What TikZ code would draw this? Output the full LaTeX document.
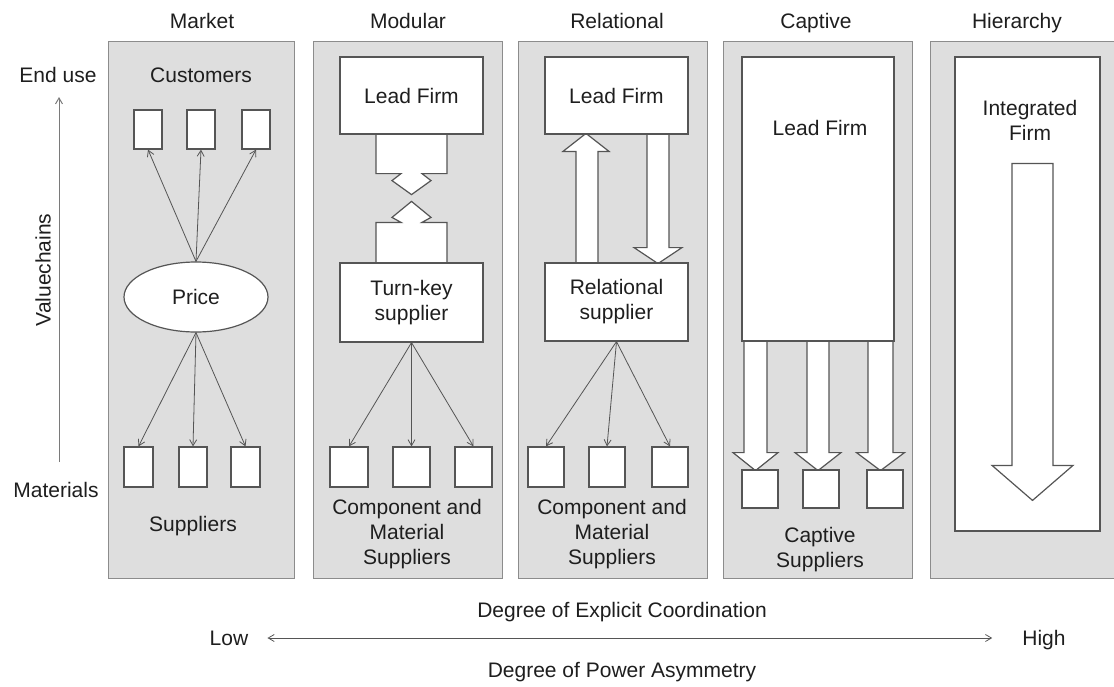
\documentclass[tikz,border=0pt]{standalone}
\usepackage{fontspec}
\setmainfont{Liberation Sans}
\usetikzlibrary{arrows.meta,calc,shapes.geometric}
\definecolor{panelfill}{HTML}{DEDEDE}
\definecolor{panelline}{HTML}{8C8C8C}
\definecolor{boxline}{HTML}{555555}
\definecolor{txt}{HTML}{1E1E1E}
\definecolor{axisline}{HTML}{7A7A7A}
\pgfdeclarelayer{panels}
\pgfdeclarelayer{bg}
\pgfsetlayers{panels,bg,main}
\begin{document}
\begin{tikzpicture}[x=1pt,y=-1pt,
  every node/.style={font=\fontsize{21}{25}\selectfont, text=txt},
  one/.style={text height=15pt, text depth=0pt, inner sep=0pt},
  panel/.style={draw=panelline, line width=1.2pt, fill=panelfill, anchor=north west, inner sep=0pt},
  wbox/.style={draw=boxline, line width=1.2pt, fill=white, inner sep=0pt, align=center},
  lbl/.style={align=center, inner sep=0pt},
  link/.style={draw=boxline, line width=0.8pt, -{Straight Barb[length=6pt,width=7pt]}},
  block/.style={draw=boxline, line width=1.2pt, fill=white, line join=miter},
  axis/.style={draw=axisline, line width=1pt}
]
\useasboundingbox (0,0) rectangle (1114,686);

% ---------- panels ----------
\begin{pgfonlayer}{panels}
\node[panel, minimum width=186pt, minimum height=537pt] (pmarket) at (108,41) {};
\node[panel, minimum width=189pt, minimum height=537pt] (pmodular) at (313,41) {};
\node[panel, minimum width=189pt, minimum height=537pt] (prelational) at (518,41) {};
\node[panel, minimum width=189pt, minimum height=537pt] (pcaptive) at (723,41) {};
\node[panel, minimum width=200pt, minimum height=537pt] (phierarchy) at (930,41) {};
\end{pgfonlayer}

% ---------- titles ----------
\node[one] (tmarket) at (202,21) {Market};
\node[one] (tmodular) at (408,21) {Modular};
\node[one] (trelational) at (617,21) {Relational};
\node[one] (tcaptive) at (816,21) {Captive};
\node[one] (thierarchy) at (1017,21) {Hierarchy};

% ---------- value chain axis ----------
\node[one] (enduse) at (58,75) {End use};
\node[one] (materials) at (56,490) {Materials};
\node[rotate=90] (vchains) at (43,270) {Valuechains};
\coordinate (axbot) at (59,462);
\coordinate (axtop) at (59,97);
\draw[axis, -{Straight Barb[length=6pt,width=7pt]}] (axbot) -- (axtop);

% ---------- Market ----------
\node[one] (customers) at (201,75) {Customers};
\node[wbox, minimum width=28pt, minimum height=39pt] (c1) at (148,129.5) {};
\node[wbox, minimum width=28pt, minimum height=39pt] (c2) at (201,129.5) {};
\node[wbox, minimum width=28pt, minimum height=39pt] (c3) at (256,129.5) {};
\node[wbox, ellipse, minimum width=144pt, minimum height=70pt] (price) at (196,297) {Price};
\node[wbox, minimum width=29pt, minimum height=40pt] (s1) at (138.5,467) {};
\node[wbox, minimum width=28pt, minimum height=40pt] (s2) at (193,467) {};
\node[wbox, minimum width=29pt, minimum height=40pt] (s3) at (245.5,467) {};
\node[one] (suppliers) at (193,524) {Suppliers};
\foreach \b in {c1,c2,c3} \draw[link] (price.north) -- (\b.south);
\foreach \b in {s1,s2,s3} \draw[link] (price.south) -- (\b.north);

% ---------- Modular ----------
\node[wbox, minimum width=143pt, minimum height=77pt] (lf1) at (411.5,95.5) {Lead Firm};
\node[wbox, minimum width=143pt, minimum height=79pt] (tk) at (411.5,302.5) {Turn-key\\supplier};
\node[wbox, minimum width=38pt, minimum height=40pt] (m1) at (349,467) {};
\node[wbox, minimum width=37pt, minimum height=40pt] (m2) at (411.5,467) {};
\node[wbox, minimum width=37pt, minimum height=40pt] (m3) at (473.5,467) {};
\node[lbl] (mtext) at (407,534) {Component and\\Material\\Suppliers};
\foreach \b in {m1,m2,m3} \draw[link] (tk.south) -- (\b.north);
\begin{pgfonlayer}{bg}
\draw[block] ($(lf1.south)+(-35.5,0)$) -- ++(0,39) -- ++(25,0) -- ++(-9,7) -- ++(19.5,14) -- ++(19.5,-14) -- ++(-9,-7) -- ++(25,0) -- ++(0,-39);
\draw[block] ($(tk.north)+(-35.5,0)$) -- ++(0,-40) -- ++(25,0) -- ++(-9,-5) -- ++(19.5,-16) -- ++(19.5,16) -- ++(-9,5) -- ++(25,0) -- ++(0,40);
\end{pgfonlayer}

% ---------- Relational ----------
\node[wbox, minimum width=143pt, minimum height=77pt] (lf2) at (616.5,95.5) {Lead Firm};
\node[wbox, minimum width=143pt, minimum height=78pt] (rs) at (616.5,302) {Relational\\supplier};
\node[wbox, minimum width=36pt, minimum height=40pt] (r1) at (546,467) {};
\node[wbox, minimum width=36pt, minimum height=40pt] (r2) at (607,467) {};
\node[wbox, minimum width=36pt, minimum height=40pt] (r3) at (670,467) {};
\node[lbl] (rtext) at (612,534) {Component and\\Material\\Suppliers};
\foreach \b in {r1,r2,r3} \draw[link] (rs.south) -- (\b.north);
\begin{pgfonlayer}{bg}
\draw[block] ($(rs.north)+(-40.5,0)$) -- ++(0,-111) -- ++(-13,0) -- ++(23,-18) -- ++(23,18) -- ++(-11,0) -- ++(0,111);
\draw[block] ($(lf2.south)+(30.5,0)$) -- ++(0,113) -- ++(-13,0) -- ++(24,16) -- ++(24,-16) -- ++(-13,0) -- ++(0,-113);
\end{pgfonlayer}

% ---------- Captive ----------
\node[wbox, minimum width=152pt, minimum height=284pt] (lf3) at (818,199) {};
\node[one] (lf3text) at (820,128) {Lead Firm};
\node[wbox, minimum width=36pt, minimum height=38pt] (cs1) at (760,489) {};
\node[wbox, minimum width=36pt, minimum height=38pt] (cs2) at (821,489) {};
\node[wbox, minimum width=36pt, minimum height=38pt] (cs3) at (885,489) {};
\node[lbl] (ctext) at (820,550) {Captive\\Suppliers};
\begin{pgfonlayer}{bg}
\draw[block] ($(lf3.south)+(-74,0)$) -- ++(0,111) -- ++(-11,0) -- ++(22.5,18) -- ++(22.5,-18) -- ++(-11,0) -- ++(0,-111);
\draw[block] ($(lf3.south)+(-11,0)$) -- ++(0,111) -- ++(-12,0) -- ++(23,18) -- ++(23,-18) -- ++(-12,0) -- ++(0,-111);
\draw[block] ($(lf3.south)+(50,0)$) -- ++(0,111) -- ++(-11.5,0) -- ++(24,18) -- ++(24,-18) -- ++(-11.5,0) -- ++(0,-111);
\end{pgfonlayer}

% ---------- Hierarchy ----------
\node[wbox, minimum width=145pt, minimum height=474pt] (intf) at (1027.5,294) {};
\node[lbl] (intftext) at (1030,120) {Integrated\\Firm};
\draw[block] ($(intf.north)+(-15.5,107)$) -- ++(0,302) -- ++(-20,0) -- ++(40.5,35) -- ++(40.5,-35) -- ++(-20,0) -- ++(0,-302) -- cycle;

% ---------- bottom scale ----------
\node[one] (coord) at (622,610) {Degree of Explicit Coordination};
\node[one] (low) at (229,638) {Low};
\node[one] (high) at (1044,638) {High};
\node[one] (power) at (622,670) {Degree of Power Asymmetry};
\draw[link, {Straight Barb[length=6pt,width=7pt]}-{Straight Barb[length=6pt,width=7pt]}, shorten <=19pt, shorten >=30pt] (low.east) -- (high.west);
\end{tikzpicture}
\end{document}
